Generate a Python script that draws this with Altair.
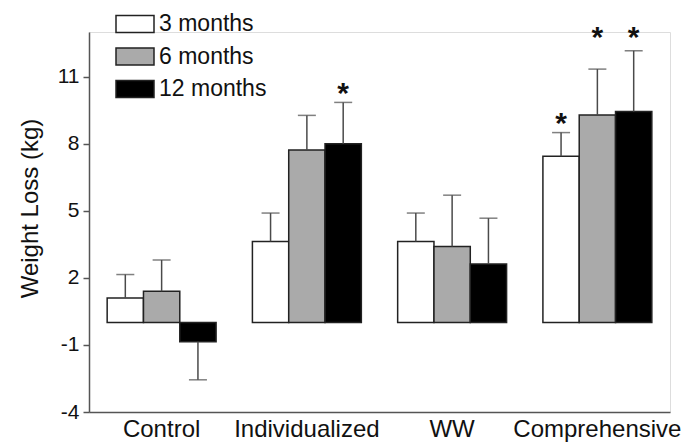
import altair as alt
import pandas as pd

groups = ["Control", "Individualized", "WW", "Comprehensive"]
periods = ["3 months", "6 months", "12 months"]

mean_3 = [1.1, 3.63, 3.63, 7.44]
mean_6 = [1.4, 7.72, 3.4, 9.29]
mean_12 = [-0.86, 8.0, 2.62, 9.44]

se_3 = [1.05, 1.27, 1.27, 1.06]
se_6 = [1.4, 1.55, 2.3, 2.05]
se_12 = [1.7, 1.85, 2.05, 2.72]

star_groups = ["Individualized", "Comprehensive", "Comprehensive", "Comprehensive"]
star_periods = ["12 months", "3 months", "6 months", "12 months"]
star_y = [10.6, 9.25, 13.1, 13.1]

y_ticks = [-4, -1, 2, 5, 8, 11]
fills = ["#ffffff", "#aaaaaa", "#000000"]

rows = []
for means, ses, p in [(mean_3, se_3, periods[0]), (mean_6, se_6, periods[1]), (mean_12, se_12, periods[2])]:
    for g, m, s in zip(groups, means, ses):
        rows.append({"group": g, "period": p, "mean": m,
                     "err": m + s if m >= 0 else m - s})
df = pd.DataFrame(rows)
stars = pd.DataFrame({"group": star_groups, "period": star_periods, "y": star_y, "t": "*"})

FONT = "Liberation Sans"

x_enc = alt.X("group:N", sort=groups,
              scale=alt.Scale(paddingInner=0.25, paddingOuter=0.125),
              axis=alt.Axis(title=None, labelAngle=0, ticks=False, labelFontSize=24,
                            labelPadding=5, labelColor="#111", domainColor="#555",
                            domainWidth=1.5, labelFont=FONT))
xo_enc = alt.XOffset("period:N", sort=periods,
                     scale=alt.Scale(paddingInner=0, paddingOuter=0))
y_scale = alt.Scale(domain=[-4, 13], nice=False, zero=False)

bars = alt.Chart(df).mark_bar(stroke="#222", strokeWidth=1.5).encode(
    x=x_enc,
    xOffset=xo_enc,
    y=alt.Y("mean:Q", scale=y_scale,
            axis=alt.Axis(values=y_ticks, title="Weight Loss (kg)", grid=False,
                          labelExpr="'' + datum.value",
                          tickSize=6, tickColor="#555", tickWidth=1.5,
                          domainColor="#555", domainWidth=1.5,
                          labelFontSize=21, labelPadding=4, labelColor="#111",
                          labelFont=FONT, titleFont=FONT, titleFontSize=24,
                          titleFontWeight="normal", titleColor="#111",
                          titleX=-47, titleY=176)),
    y2=alt.datum(0),
    fill=alt.Fill("period:N", sort=periods,
                  scale=alt.Scale(domain=periods, range=fills),
                  legend=alt.Legend(title=None, orient="none", legendX=26, legendY=-28,
                                    symbolType="M-1,-0.447L1,-0.447L1,0.447L-1,0.447Z",
                                    symbolSize=1444, symbolStrokeColor="#222",
                                    symbolStrokeWidth=1.5, labelFontSize=23,
                                    labelFont=FONT, labelColor="#111",
                                    labelOffset=4, rowPadding=0.5, padding=0)),
)

rules = alt.Chart(df).mark_rule(color="#4a4a4a", strokeWidth=1.5).encode(
    x=x_enc, xOffset=xo_enc,
    y=alt.Y("mean:Q", scale=y_scale), y2="err:Q",
)

caps = alt.Chart(df).mark_tick(color="#4a4a4a", thickness=1.5, size=18, orient="horizontal").encode(
    x=x_enc, xOffset=xo_enc,
    y=alt.Y("err:Q", scale=y_scale),
)

star_text = alt.Chart(stars).mark_text(fontSize=30, font=FONT, fontWeight="bold", color="#111",
                                       baseline="alphabetic", dy=17).encode(
    x=x_enc, xOffset=xo_enc,
    y=alt.Y("y:Q", scale=y_scale),
    text="t:N",
)

chart = alt.layer(bars, rules, caps, star_text).properties(
    width=581, height=380,
    autosize=alt.AutoSizeParams(type="none"),
    padding={"left": 89, "top": 32, "right": 16, "bottom": 31},
).configure_view(stroke=None).configure(background="white")

chart.save("out.html", embed_options={"renderer": "svg", "actions": False})
